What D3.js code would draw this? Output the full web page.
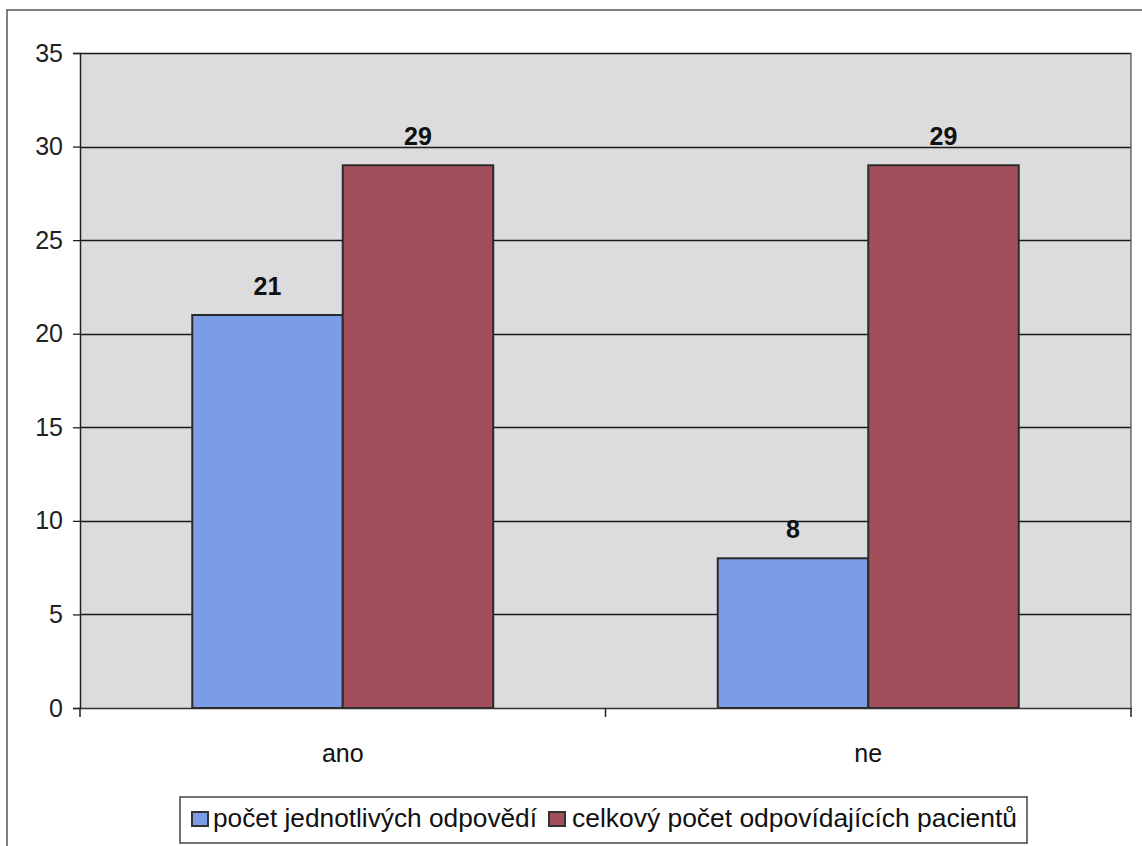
<!DOCTYPE html>
<html>
<head>
<meta charset="utf-8">
<script src="https://cdn.jsdelivr.net/npm/d3@7"></script>
<style>
  html, body { margin: 0; padding: 0; background: #fff; }
  svg { display: block; font-family: Arial, "Liberation Sans", sans-serif; }
</style>
</head>
<body>
<svg id="chart" width="1142" height="846"></svg>
<script>
// Answers to the question, per category
const categories = ["ano", "ne"];
const seriesNames = ["počet jednotlivých odpovědí", "celkový počet odpovídajících pacientů"];
const answerCounts = [21, 8];        // počet jednotlivých odpovědí
const respondentTotals = [29, 29];   // celkový počet odpovídajících pacientů
const yTicks = [0, 5, 10, 15, 20, 25, 30, 35];

const seriesColors = ["#7b9de6", "#a34f5b"];
const seriesValues = [answerCounts, respondentTotals];

const svg = d3.select("#chart");

// outer chart frame
svg.append("rect")
  .attr("x", 7).attr("y", 10).attr("width", 1140).attr("height", 850)
  .attr("fill", "#fff").attr("stroke", "#555").attr("stroke-width", 1.5);

const plot = { left: 80, right: 1131, top: 53, bottom: 708 };

const x0 = d3.scaleBand().domain(categories).range([plot.left, plot.right]).padding(0);
const x1 = d3.scaleBand().domain(seriesNames).range([0, x0.bandwidth()]).paddingInner(0).paddingOuter(0.746);
const y = d3.scaleLinear().domain([0, 35]).range([plot.bottom, plot.top]);

// plot background
svg.append("rect")
  .attr("x", plot.left).attr("y", plot.top)
  .attr("width", plot.right - plot.left).attr("height", plot.bottom - plot.top)
  .attr("fill", "#dcdbdd");

// horizontal gridlines
svg.append("g").selectAll("line").data(yTicks.filter(t => t > 0)).join("line")
  .attr("x1", plot.left).attr("x2", plot.right)
  .attr("y1", d => Math.round(y(d)) + 0.5).attr("y2", d => Math.round(y(d)) + 0.5)
  .attr("stroke", "#1a1a1a").attr("stroke-width", 1.5);

// right border of plot
svg.append("line")
  .attr("x1", plot.right).attr("x2", plot.right)
  .attr("y1", plot.top).attr("y2", plot.bottom)
  .attr("stroke", "#555").attr("stroke-width", 1.3);

// y axis
const yAxis = d3.axisLeft(y).tickValues(yTicks).tickSize(7).tickPadding(10);
const gy = svg.append("g").attr("transform", `translate(${plot.left},0)`).call(yAxis);
gy.select(".domain").attr("stroke", "#222").attr("stroke-width", 1.5);
gy.selectAll(".tick line").attr("stroke", "#222").attr("stroke-width", 1.3);
gy.selectAll(".tick text").attr("font-size", 25).attr("fill", "#222")
  .attr("font-family", "Arial, 'Liberation Sans', sans-serif");

// bars
const groups = svg.append("g").selectAll("g").data(categories).join("g")
  .attr("transform", d => `translate(${x0(d)},0)`);

groups.selectAll("rect")
  .data((c, i) => seriesNames.map((s, j) => ({ s, j, v: seriesValues[j][i] })))
  .join("rect")
  .attr("x", d => x1(d.s))
  .attr("y", d => y(d.v))
  .attr("width", x1.bandwidth())
  .attr("height", d => y(0) - y(d.v))
  .attr("fill", d => seriesColors[d.j])
  .attr("stroke", "#2a2a2a").attr("stroke-width", 2);

// value labels
groups.selectAll("text.val")
  .data((c, i) => seriesNames.map((s, j) => ({ s, j, v: seriesValues[j][i] })))
  .join("text")
  .attr("class", "val")
  .attr("x", d => x1(d.s) + x1.bandwidth() / 2)
  .attr("y", d => y(d.v) - 20)
  .attr("text-anchor", "middle")
  .attr("font-size", 25).attr("font-weight", "bold").attr("fill", "#111")
  .text(d => d.v);

// x axis
const xAxis = d3.axisBottom(x0).tickSize(0).tickPadding(36);
const gx = svg.append("g").attr("transform", `translate(0,${plot.bottom})`).call(xAxis);
gx.select(".domain").attr("stroke", "#333").attr("stroke-width", 1.5);
gx.selectAll(".tick text").attr("font-size", 25).attr("fill", "#111")
  .attr("font-family", "Arial, 'Liberation Sans', sans-serif");

// category separator ticks
const sepTicks = [plot.left, plot.left + x0.step(), plot.right];
svg.append("g").selectAll("line").data(sepTicks).join("line")
  .attr("x1", d => d).attr("x2", d => d)
  .attr("y1", plot.bottom).attr("y2", plot.bottom + 9)
  .attr("stroke", "#222").attr("stroke-width", 1.5);

// legend
const legend = svg.append("g");
legend.append("rect")
  .attr("x", 180).attr("y", 797).attr("width", 847).attr("height", 46)
  .attr("fill", "#fff").attr("stroke", "#444").attr("stroke-width", 1.5);

const legendItems = [
  { name: seriesNames[0], color: seriesColors[0], x: 192, tx: 21, w: 324 },
  { name: seriesNames[1], color: seriesColors[1], x: 549, tx: 23, w: 445 }
];
const li = legend.selectAll("g").data(legendItems).join("g")
  .attr("transform", d => `translate(${d.x},812)`);
li.append("rect").attr("width", 16).attr("height", 14)
  .attr("fill", d => d.color).attr("stroke", "#333").attr("stroke-width", 2);
li.append("text").attr("x", d => d.tx).attr("y", 15)
  .attr("font-size", 26).attr("fill", "#111")
  .attr("textLength", d => d.w).attr("lengthAdjust", "spacingAndGlyphs")
  .text(d => d.name);
</script>
</body>
</html>
